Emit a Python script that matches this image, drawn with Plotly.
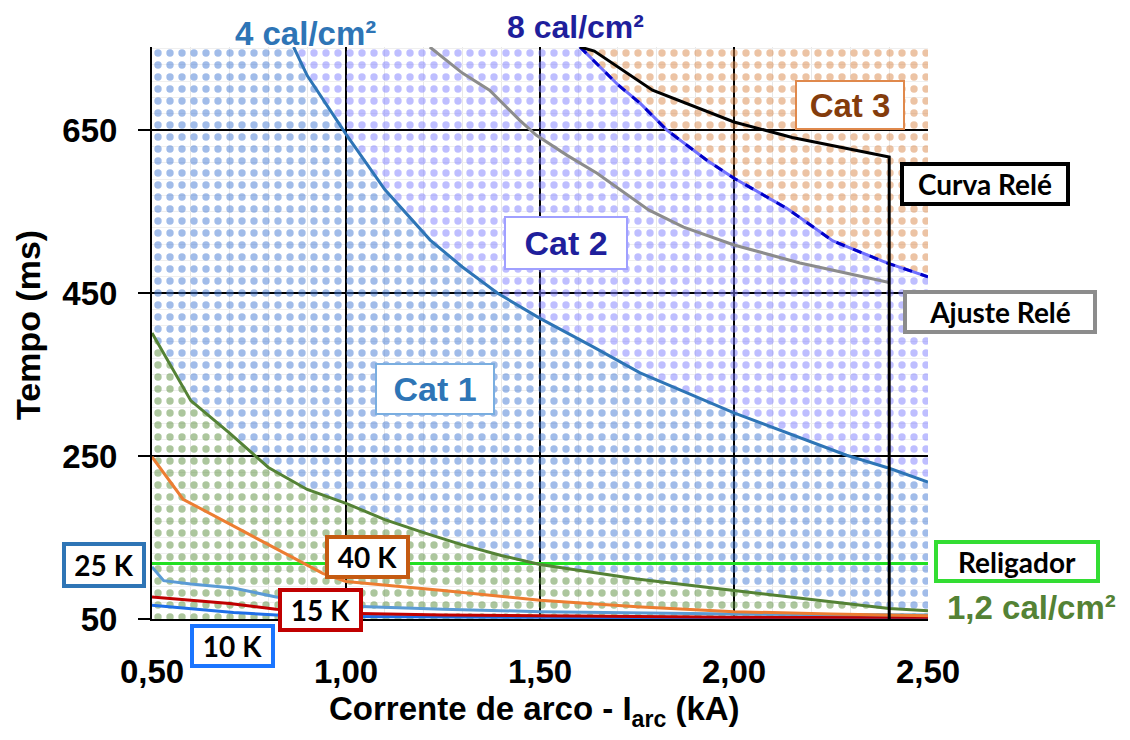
import plotly.graph_objects as go

# ---------------- data ----------------
x_range = [0.5, 2.5]
y_range = [50, 752]

x_green = [0.50, 0.60, 0.70, 0.80, 0.90, 1.00, 1.10, 1.20, 1.30, 1.40, 1.50, 1.75, 2.00, 2.25, 2.40, 2.50]
y_green = [401, 318, 278, 236, 209, 192, 172, 156, 141, 128, 117, 99, 85, 71, 63, 60]

x_4cal = [0.865, 0.90, 1.00, 1.10, 1.217, 1.30, 1.39, 1.50, 1.637, 1.758, 2.00, 2.29, 2.40, 2.50]
y_4cal = [752, 717, 645, 577, 515, 482, 450, 419, 384, 352, 303, 251, 235, 218]

x_8cal = [1.603, 1.70, 1.758, 1.827, 1.93, 2.00, 2.136, 2.255, 2.394, 2.50]
y_8cal = [752, 706, 683, 650, 613, 591, 554, 514, 487, 470]

x_ajuste = [1.216, 1.30, 1.37, 1.448, 1.49, 1.57, 1.647, 1.78, 1.87, 2.00, 2.17, 2.40]
y_ajuste = [752, 720, 699, 662, 644, 619, 597, 552, 531, 509, 487, 463]

x_curva = [1.603, 1.64, 1.79, 2.00, 2.15, 2.40, 2.40]
y_curva = [752, 747, 699, 660, 641, 617, 50]

x_40k = [0.50, 0.58, 0.73, 0.84, 0.94, 1.00, 1.25, 1.50, 1.75, 2.00, 2.25, 2.50]
y_40k = [249, 197, 159, 131, 106, 96, 85, 73, 65, 59, 56, 54]

x_25k = [0.50, 0.53, 0.60, 0.71, 0.82, 0.90, 1.00, 1.25, 1.50, 2.00, 2.50]
y_25k = [114, 97, 93, 88, 77, 72, 66, 62, 59, 56, 55]

x_15k = [0.50, 0.60, 0.70, 0.82, 1.00, 1.25, 1.50, 2.00, 2.50]
y_15k = [77, 73, 69, 62, 57, 55, 54, 52, 52]

x_10k = [0.50, 0.60, 0.71, 0.82, 1.00, 1.50, 2.00, 2.50]
y_10k = [67, 63, 58, 55, 53, 52, 51, 51]

religador_y = 118

x_ticks = [0.5, 1.0, 1.5, 2.0, 2.5]
y_ticks = [50, 250, 450, 650]

# ---------------- figure ----------------
OFF = 8  # default page margin around the plot div
W, H = 1130 - 2 * OFF, 740 - 2 * OFF
ML, MT = 152 - OFF, 47 - OFF
PW, PH = 776, 572
MR, MB = W - ML - PW, H - MT - PH


def px(xp):
    return (xp - OFF - ML) / PW


def py(yp):
    return (MT + PH - (yp - OFF)) / PH


fig = go.Figure()


def pattern(color):
    return dict(shape=".", fgcolor=color, bgcolor="rgba(0,0,0,0)", size=12, solidity=0.3)


# baseline
fig.add_trace(go.Scatter(x=[x_range[0], x_range[1]], y=[y_range[0], y_range[0]], mode="lines",
                         line=dict(width=0), showlegend=False, hoverinfo="skip"))
# green region (below 1.2 cal)
fig.add_trace(go.Scatter(x=x_green, y=y_green, mode="lines", line=dict(width=0),
                         fill="tonexty", fillcolor="rgba(0,0,0,0)", fillpattern=pattern("#5a8d3c"),
                         showlegend=False, hoverinfo="skip"))
# blue region (Cat 1)
fig.add_trace(go.Scatter(x=[x_range[0]] + x_4cal, y=[y_range[1]] + y_4cal, mode="lines", line=dict(width=0),
                         fill="tonexty", fillcolor="rgba(0,0,0,0)", fillpattern=pattern("#4479d4"),
                         showlegend=False, hoverinfo="skip"))
# purple region (Cat 2)
fig.add_trace(go.Scatter(x=[x_range[0]] + x_8cal, y=[y_range[1]] + y_8cal, mode="lines", line=dict(width=0),
                         fill="tonexty", fillcolor="rgba(0,0,0,0)", fillpattern=pattern("#7d7dff"),
                         showlegend=False, hoverinfo="skip"))
# orange region (Cat 3)
fig.add_trace(go.Scatter(x=[x_range[0], x_range[1]], y=[y_range[1], y_range[1]], mode="lines", line=dict(width=0),
                         fill="tonexty", fillcolor="rgba(0,0,0,0)", fillpattern=pattern("#da8749"),
                         showlegend=False, hoverinfo="skip"))


def line(x, y, color, width=3, dash=None):
    fig.add_trace(go.Scatter(x=x, y=y, mode="lines", line=dict(color=color, width=width, dash=dash),
                             showlegend=False, hoverinfo="skip"))


line([x_range[0], x_range[1]], [religador_y, religador_y], "#22e022", 3)
line(x_10k, y_10k, "#1f6fe8", 3)
line(x_15k, y_15k, "#c00000", 3)
line(x_25k, y_25k, "#5b9bd5", 3)
line(x_40k, y_40k, "#ed7d31", 3)
line(x_green, y_green, "#548235", 3)
line(x_4cal, y_4cal, "#2e75b6", 3)
line(x_ajuste, y_ajuste, "#8c8c8c", 3)
line(x_8cal, y_8cal, "#7070ff", 3)
line(x_8cal, y_8cal, "#0000c8", 3, "dash")
line(x_curva, y_curva, "#000000", 3)

# ---------------- annotations ----------------
ann = []


def label(text, xc, yc, color, size, family, border=None, bw=4, w=None, h=None):
    a = dict(text=text, x=px(xc), y=py(yc), xref="paper", yref="paper", xanchor="center", yanchor="middle",
             showarrow=False, font=dict(family=family, size=size, color=color, weight="bold"))
    if border:
        a.update(bordercolor=border, borderwidth=bw, bgcolor="white", borderpad=0)
        if w:
            a.update(width=w - 2 * bw, height=h - 2 * bw, align="center", valign="middle")
    ann.append(a)


ARIAL = "Liberation Sans"
CAL = "Lato"

label("4 cal/cm²", 305, 33, "#2e75b6", 33, ARIAL)
label("8 cal/cm²", 575, 27, "#1f1f9c", 32, ARIAL)
label("Cat 3", 850, 105, "#843c0c", 33, ARIAL, "#e0894c", 2, 110, 50)
label("Curva Relé", 985, 184, "#000000", 28, CAL, "#000000", 4, 170, 44)
label("Cat 2", 566, 243, "#1f1f9c", 34, ARIAL, "#a0a0ff", 2, 124, 54)
label("Ajuste Relé", 1000, 312, "#000000", 28, CAL, "#8c8c8c", 4, 194, 44)
label("Cat 1", 435, 389, "#2e75b6", 34, ARIAL, "#7aaee0", 2, 120, 52)
label("25 K", 104, 565, "#000000", 28, CAL, "#2e75b6", 4, 84, 46)
label("40 K", 367, 557, "#000000", 28, CAL, "#c55a11", 4, 85, 44)
label("15 K", 320, 610, "#000000", 28, CAL, "#c00000", 4, 85, 44)
label("10 K", 232, 646, "#000000", 28, CAL, "#1a75ff", 4, 85, 44)
label("Religador", 1017, 561, "#000000", 28, CAL, "#33dd33", 4, 166, 43)
label("1,2 cal/cm²", 1031, 607, "#548235", 33, ARIAL)

# axis titles
ann.append(dict(text="Tempo (ms)", x=px(28), y=py(325), xref="paper", yref="paper", textangle=-90,
                xanchor="center", yanchor="middle", showarrow=False,
                font=dict(family=ARIAL, size=34, color="black", weight="bold")))
ann.append(dict(text="Corrente de arco - I<sub>arc</sub> (kA)", x=px(534), y=py(711), xref="paper", yref="paper",
                xanchor="center", yanchor="middle", showarrow=False,
                font=dict(family=ARIAL, size=33, color="black", weight="bold")))

fig.update_layout(
    width=W, height=H, autosize=False,
    margin=dict(l=ML, r=MR, t=MT, b=MB, pad=0),
    paper_bgcolor="white", plot_bgcolor="white",
    separators=",.",
    showlegend=False,
    annotations=ann,
    font=dict(family=ARIAL),
)

fig.update_xaxes(
    range=x_range, tickmode="array", tickvals=x_ticks, tickformat=".2f",
    showgrid=True, gridcolor="black", gridwidth=2,
    minor=dict(dtick=0.1, tick0=0.5, showgrid=True, gridcolor="#e8e8e8", gridwidth=1),
    showline=True, linecolor="black", linewidth=2, zeroline=False,
    ticks="", ticklabelstandoff=22,
    tickfont=dict(family=ARIAL, size=33, color="black", weight="bold"),
)
fig.update_yaxes(
    range=y_range, tickmode="linear", tick0=50, dtick=200,
    showgrid=True, gridcolor="black", gridwidth=2,
    minor=dict(dtick=20, tick0=50, showgrid=True, gridcolor="#efefef", gridwidth=1),
    showline=True, linecolor="black", linewidth=2, zeroline=False,
    ticks="outside", ticklen=12, tickwidth=2, tickcolor="black", ticklabelstandoff=14,
    tickfont=dict(family=ARIAL, size=33, color="black", weight="bold"),
)

fig.write_html("out.html")
